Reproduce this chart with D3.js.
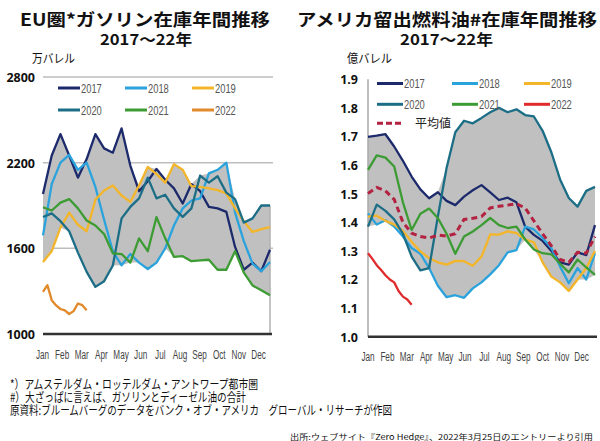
<!DOCTYPE html>
<html><head><meta charset="utf-8">
<script src="https://cdn.jsdelivr.net/npm/d3@7"></script>
<style>body{margin:0;background:#fff}svg{display:block}</style>
</head><body>
<svg id="c" width="600" height="441"></svg>
<script>
// ---------- data ----------
const months = ["Jan","Feb","Mar","Apr","May","Jun","Jul","Aug","Sep","Oct","Nov","Dec"];
const years = ["2017","2018","2019","2020","2021","2022"];
const weeksBi = [0,2,4,6,8,10,12,14,16,18,20,22,24,26,28,30,32,34,36,38,40,42,44,46,48,50,52];
const weeks2022 = [0,1,2,3,4,5,6,7,8,9,10];

// EU gasoline stocks (10k barrels)
const eu2017 = [1981,2250,2400,2250,2095,2225,2400,2300,2270,2440,2180,2000,2070,2156,2080,2020,1914,2050,2000,1890,1880,1855,1610,1450,1500,1440,1590];
const eu2018 = [1691,2050,2200,2255,2150,2200,2030,1800,1580,1481,1560,1500,1455,1500,1600,1760,1880,1935,1950,2125,2150,2200,1850,1650,1493,1440,1504];
const eu2019 = [1504,1580,1745,1850,1765,1720,1940,2005,2040,1970,1925,2040,2170,2120,2060,2190,2150,2035,2030,2020,2008,1985,1880,1790,1715,1735,1749];
const eu2020 = [1819,1845,1790,1720,1570,1435,1330,1370,1480,1810,1890,1950,2095,1950,1975,1880,1820,1880,2110,2060,2105,1990,1945,1780,1810,1900,1900];
const eu2021 = [1888,1865,1920,1945,1880,1795,1760,1700,1565,1560,1500,1670,1580,1819,1670,1540,1545,1510,1516,1520,1450,1450,1580,1430,1340,1307,1272];
const eu2022 = [1295,1342,1237,1200,1175,1165,1140,1160,1214,1202,1167];
const euTicks = [1000,1600,2200,2800];

// US distillate stocks (100M barrels)
const us2017 = [1.699,1.703,1.708,1.665,1.615,1.56,1.515,1.484,1.505,1.475,1.46,1.49,1.512,1.53,1.505,1.478,1.486,1.47,1.385,1.356,1.335,1.30,1.26,1.252,1.295,1.285,1.39];
const us2018 = [1.431,1.392,1.407,1.385,1.35,1.31,1.29,1.24,1.178,1.138,1.145,1.136,1.169,1.19,1.218,1.25,1.295,1.303,1.385,1.375,1.345,1.31,1.245,1.187,1.24,1.2,1.292];
const us2019 = [1.42,1.423,1.405,1.392,1.37,1.332,1.298,1.275,1.26,1.252,1.265,1.264,1.248,1.28,1.358,1.357,1.368,1.362,1.34,1.33,1.26,1.21,1.19,1.16,1.2,1.24,1.30];
const us2020 = [1.385,1.462,1.44,1.41,1.36,1.28,1.232,1.24,1.42,1.59,1.715,1.755,1.746,1.765,1.785,1.8,1.785,1.795,1.775,1.77,1.72,1.645,1.55,1.485,1.455,1.51,1.524];
const us2021 = [1.583,1.634,1.626,1.595,1.47,1.373,1.43,1.448,1.415,1.36,1.29,1.35,1.368,1.39,1.415,1.39,1.38,1.385,1.34,1.305,1.292,1.288,1.255,1.225,1.27,1.242,1.216];
const us2022 = [1.292,1.272,1.25,1.233,1.215,1.2,1.19,1.16,1.14,1.13,1.112];
const usAvg = [1.501,1.522,1.51,1.48,1.40,1.362,1.35,1.345,1.355,1.352,1.36,1.41,1.414,1.42,1.45,1.456,1.46,1.465,1.45,1.405,1.36,1.318,1.27,1.26,1.295,1.292,1.35];
const usTicks = [1.0,1.1,1.2,1.3,1.4,1.5,1.6,1.7,1.8,1.9];

const colors = {"2017":"#1c2a6c","2018":"#2aa3dc","2019":"#f3b529","2020":"#1c6e86","2021":"#3c9c33"};
const euColor2022 = "#e2892b", usColor2022 = "#e02a2c", avgColor = "#b32240";
const bandColor = "#c0c0c0";

// ---------- helpers ----------
const svg = d3.select("#c");
svg.append("rect").attr("width",600).attr("height",441).attr("fill","#fff");
const CJK = "'Noto Sans CJK JP','Noto Sans',sans-serif";
const NARROW = "'Liberation Sans Narrow','Liberation Sans',Arial,sans-serif";
const NUM = "'Open Sans','Liberation Sans',sans-serif";
function fitW(sel, w){ sel.attr("textLength", w).attr("lengthAdjust","spacingAndGlyphs"); return sel; }
function squeeze(sel, f){ sel.each(function(){ const l=this.getComputedTextLength(); d3.select(this).attr("textLength", l*f).attr("lengthAdjust","spacingAndGlyphs"); }); return sel; }
function txt(x,y,s,size,opts={}){
  const t = svg.append("text").attr("x",x).attr("y",y).text(s)
    .attr("font-size",size).attr("font-family",opts.family||CJK)
    .attr("font-weight",opts.weight||"normal").attr("fill",opts.fill||"#111")
    .attr("text-anchor",opts.anchor||"start");
  if(opts.w) fitW(t,opts.w);
  return t;
}

function drawPanel(cfg){
  const x = d3.scaleLinear().domain([0,52]).range(cfg.xr);
  const y = d3.scaleLinear().domain(cfg.yd).range(cfg.yr);
  const g = svg.append("g");
  // gridlines
  if(cfg.grid){
    cfg.ticks.filter(t=>t!==cfg.yd[0]).forEach(t=>{
      g.append("line").attr("x1",cfg.xr[0]).attr("x2",cfg.xr[1]+3).attr("y1",y(t)).attr("y2",y(t))
        .attr("stroke","#bdbdbd").attr("stroke-width",1.5);
    });
  }
  // band (min-max of 2017-2021)
  const series = cfg.series;
  const band = weeksBi.map((w,i)=>({w, lo:d3.min(series,s=>s[i]), hi:d3.max(series,s=>s[i])}));
  g.append("path").datum(band)
    .attr("d", d3.area().x(d=>x(d.w)).y0(d=>y(d.lo)).y1(d=>y(d.hi)))
    .attr("fill",bandColor);
  if(cfg.endLine){
    const last = band[band.length-1];
    g.append("line").attr("x1",x(52)).attr("x2",x(52)).attr("y1",y(last.hi)).attr("y2",y(cfg.yd[0]))
      .attr("stroke","#b0b0b0").attr("stroke-width",1.5);
  }
  // y axis (left)
  const yAxis = d3.axisLeft(y).tickValues(cfg.ticks).tickSize(0).tickPadding(0).tickFormat(cfg.fmt);
  const ya = g.append("g").attr("transform",`translate(${cfg.labelX},0)`).call(yAxis);
  ya.select(".domain").remove();
  ya.selectAll("text").attr("font-family",NUM).attr("font-weight","bold").attr("font-size",cfg.labelSize).attr("fill","#111").attr("dy","0.35em");
  if(cfg.yLine){
    g.append("line").attr("x1",cfg.xr[0]).attr("x2",cfg.xr[0]).attr("y1",y(cfg.yd[1])).attr("y2",y(cfg.yd[0]))
      .attr("stroke","#aaaaaa").attr("stroke-width",1.5);
  }
  // bottom axis line
  g.append("line").attr("x1",cfg.xr[0]).attr("x2",cfg.xr[1]+2).attr("y1",y(cfg.yd[0])).attr("y2",y(cfg.yd[0]))
    .attr("stroke","#333").attr("stroke-width",2.5);
  // month labels
  const mx = d3.scalePoint().domain(months).range(cfg.monthR);
  const xa = g.append("g").attr("transform",`translate(0,${cfg.monthY})`)
    .call(d3.axisBottom(mx).tickSize(0).tickPadding(0));
  xa.select(".domain").remove();
  xa.selectAll("text").attr("font-family",NARROW).attr("font-size",12).attr("fill","#444").attr("dy","0.35em");
  squeeze(xa.selectAll("text"),0.68);
  // lines
  const line = d3.line().x(d=>x(d[0])).y(d=>y(d[1]));
  series.forEach((s,i)=>{
    g.append("path").datum(weeksBi.map((w,j)=>[w,s[j]])).attr("d",line)
      .attr("fill","none").attr("stroke",colors[years[i]]).attr("stroke-width",2.3).attr("stroke-linejoin","round");
  });
  g.append("path").datum(weeks2022.map((w,j)=>[w,cfg.s2022[j]])).attr("d",line)
    .attr("fill","none").attr("stroke",cfg.c2022).attr("stroke-width",2.3).attr("stroke-linejoin","round");
  if(cfg.avg){
    g.append("path").datum(weeksBi.map((w,j)=>[w,cfg.avg[j]])).attr("d",line)
      .attr("fill","none").attr("stroke",avgColor).attr("stroke-width",3).attr("stroke-dasharray","6,4");
  }
  // legend
  const lc = years.map(yv=>colors[yv]||cfg.c2022);
  years.forEach((yv,i)=>{
    const col = i%3, row = Math.floor(i/3);
    const lx = cfg.legX[col], ly = cfg.legY[row];
    g.append("line").attr("x1",lx).attr("x2",lx+cfg.legLen).attr("y1",ly).attr("y2",ly)
      .attr("stroke",lc[i]).attr("stroke-width",3);
    const t = g.append("text").attr("x",lx+cfg.legLen+1).attr("y",ly+4.5).text(yv)
      .attr("font-family",NARROW).attr("font-size",13).attr("fill","#555");
    squeeze(t,0.72);
  });
  if(cfg.avg){
    const lx = cfg.legX[0], ly = cfg.legY[2];
    g.append("line").attr("x1",lx).attr("x2",lx+cfg.legLen).attr("y1",ly).attr("y2",ly)
      .attr("stroke",avgColor).attr("stroke-width",3).attr("stroke-dasharray","6,3");
    g.append("text").attr("x",lx+38).attr("y",ly+4.5).text("平均値")
      .attr("font-family",CJK).attr("font-size",12).attr("fill","#222");
  }
}

// ---------- left panel ----------
drawPanel({
  xr:[43,270], yd:[1000,2800], yr:[334,77], ticks:euTicks, fmt:d3.format("d"),
  labelX:35, labelSize:12.5, grid:true, endLine:true, yLine:false,
  monthR:[42,258], monthY:355,
  series:[eu2017,eu2018,eu2019,eu2020,eu2021], s2022:eu2022, c2022:euColor2022,
  legX:[58,125,192], legY:[88,110], legLen:22
});
// ---------- right panel ----------
drawPanel({
  xr:[368,595], yd:[1.0,1.9], yr:[336.7,79.3], ticks:usTicks, fmt:d3.format(".1f"),
  labelX:358, labelSize:12.5, grid:false, endLine:false, yLine:true,
  monthR:[367.5,581], monthY:357,
  series:[us2017,us2018,us2019,us2020,us2021], s2022:us2022, c2022:usColor2022, avg:usAvg,
  legX:[377,452,524], legY:[83.5,104.3,123.3], legLen:26
});

// ---------- titles & notes ----------
txt(20,25.5,"EU圏*ガソリン在庫年間推移",17,{weight:"bold",w:250});
txt(297,25.5,"アメリカ留出燃料油#在庫年間推移",17,{weight:"bold",w:300});
txt(100,45,"2017～22年",15,{weight:"bold",w:92});
txt(400,45,"2017～22年",15,{weight:"bold",w:93});
txt(32,63,"万バレル",12,{w:43});
txt(347,63,"億バレル",12,{w:45});
txt(10,389,"*）アムステルダム・ロッテルダム・アントワープ都市圏",12.5,{w:248});
txt(10,402,"#）大ざっぱに言えば、ガソリンとディーゼル油の合計",12.5,{w:236});
txt(10,415,"原資料:ブルームバーグのデータをバンク・オブ・アメリカ　グローバル・リサーチが作図",12.5,{w:382});
txt(290,439.5,"出所:ウェブサイト『Zero Hedge』、2022年3月25日のエントリーより引用",8,{w:303});
</script>
</body></html>
